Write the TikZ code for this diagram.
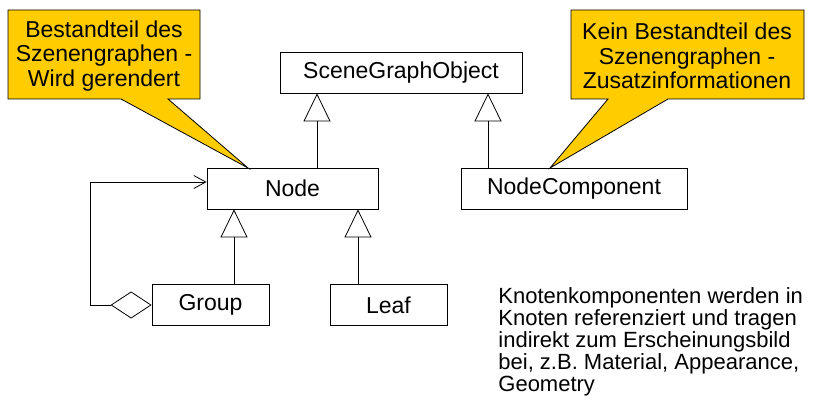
\documentclass[tikz,border=0pt]{standalone}
\usepackage{fontspec}
\setmainfont{Liberation Sans}
\usetikzlibrary{arrows.meta}
\definecolor{bubbleyellow}{RGB}{255,204,0}

\begin{document}
\begin{tikzpicture}[x = 1pt, y = -1pt, % pixel units, y pointing down
                line width = 0.8pt, % line style
                font = \fontsize{22}{22}\selectfont
            ]

            \tikzstyle{class}=[draw = black, rectangle, inner sep = 0pt,
            minimum height = 41pt, font = \fontsize{23}{23}\selectfont]
            \tikzstyle{inherit}=[-{Triangle[open, length = 28pt, width = 27pt]}]
            \tikzstyle{bubble}=[draw = black, fill = bubbleyellow]
            \tikzstyle{bubbletext}=[align = center, inner sep = 0pt,
            font = \fontsize{23}{24.5}\selectfont]

            \useasboundingbox (0,0) rectangle (816,403);

            % speech bubbles
            \draw[bubble] (8,10) -- (200,10) -- (200,99) -- (168,99) -- (248,168)
            -- (121,99) -- (8,99) -- cycle;
            \draw[bubble] (571,10) -- (804,10) -- (804,99) -- (668,99) -- (550,168)
            -- (608,99) -- (571,99) -- cycle;
            \node[bubbletext] (inside) at (104,56) {Bestandteil des\\ Szenengraphen -\\ Wird gerendert};
            \node[bubbletext] (outside) at (687,56) {Kein Bestandteil des\\ Szenengraphen -\\ Zusatzinformationen};

            % classes
            \node[class, minimum width = 242pt] (sgo) at (401,72.5) {SceneGraphObject};
            \node[class, minimum width = 171pt] (node) at (292.5,188.5) {Node};
            \node[class, minimum width = 226pt] (comp) at (574,188.5) {NodeComponent};
            \node[class, minimum width = 117pt] (group) at (210.5,305) {Group};
            \node[class, minimum width = 117pt] (leaf) at (388.5,305) {Leaf};

            \draw[inherit] ([xshift = 24.5pt]node.north) -- ([xshift = 24.5pt]node.north |- sgo.south);
            \draw[inherit] ([xshift = -86pt]comp.north) -- ([xshift = -86pt]comp.north |- sgo.south);
            \draw[inherit] ([xshift = 23.5pt]group.north) -- ([xshift = 23.5pt]group.north |- node.south);
            \draw[inherit] ([xshift = -30.5pt]leaf.north) -- ([xshift = -30.5pt]leaf.north |- node.south);

            % aggregation
            \draw[{Diamond[open, length = 41pt, width = 27pt]}-{Straight Barb[length = 12pt, width = 13pt]}]
            (group.west) -- ++(-61,0) |- ([yshift = 6.5pt]node.west);

            \node[align = left, inner sep = 0pt, anchor = north west] (note) at (498,287)
            {Knotenkomponenten werden in\\ Knoten referenziert und tragen\\ indirekt zum Erscheinungsbild\\ bei, z.B. Material, Appearance,\\ Geometry};
        \end{tikzpicture}
\end{document}
